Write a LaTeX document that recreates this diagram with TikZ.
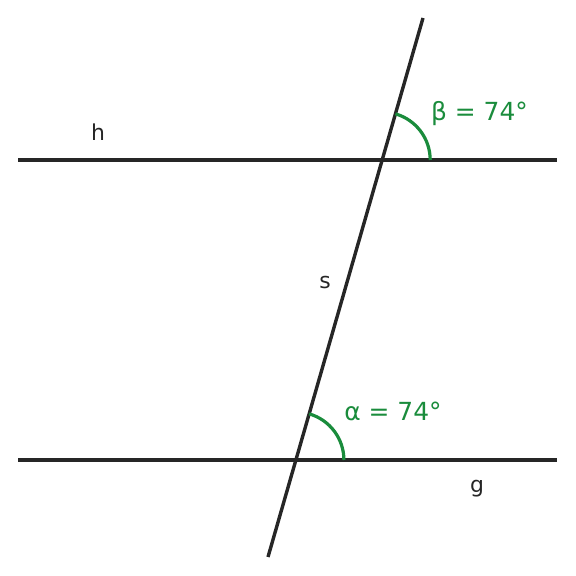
\documentclass[tikz,border=0pt]{standalone}
\usepackage{fontspec}
\setmainfont{DejaVu Sans}
\usepackage{xcolor}
\definecolor{anglegreen}{RGB}{26,140,60}
\definecolor{linegray}{RGB}{38,38,38}

\begin{document}
\begin{tikzpicture}[x=1bp,y=1bp,
  gline/.style={line width=3.4bp,color=linegray},
  anglearc/.style={line width=3.2bp,color=anglegreen},
  lbl/.style={font=\fontsize{22}{26}\selectfont,text=linegray},
  anglelbl/.style={font=\fontsize{25}{30}\selectfont,text=anglegreen}]
\useasboundingbox (0,0) rectangle (576,576);

% Draw parallel lines h and g
\coordinate (hL) at (18,416);
\coordinate (hR) at (557,416);
\coordinate (gL) at (18,116);
\coordinate (gR) at (557,116);
\draw[gline] (hL) -- (hR);
\draw[gline] (gL) -- (gR);

% Draw transversal s
\coordinate (sB) at (268,19);
\coordinate (sT) at (423,558);
\draw[gline] (sB) -- (sT);

% Intersection points
\coordinate (Ph) at (382.2,416);
\coordinate (Pg) at (295.9,116);

% Draw angles
\draw[anglearc] ([xshift=48bp]Ph) arc (0:74:48);
\draw[anglearc] ([xshift=48bp]Pg) arc (0:74:48);

% Labels
\node[lbl] (h) at (98,444) {h};
\node[lbl] (s) at (325,293) {s};
\node[lbl] (g) at (477,87) {g};
\node[anglelbl] (beta) at (479.5,462) {β = 74°};
\node[anglelbl] (alpha) at (393,165) {α = 74°};
\end{tikzpicture}
\end{document}
